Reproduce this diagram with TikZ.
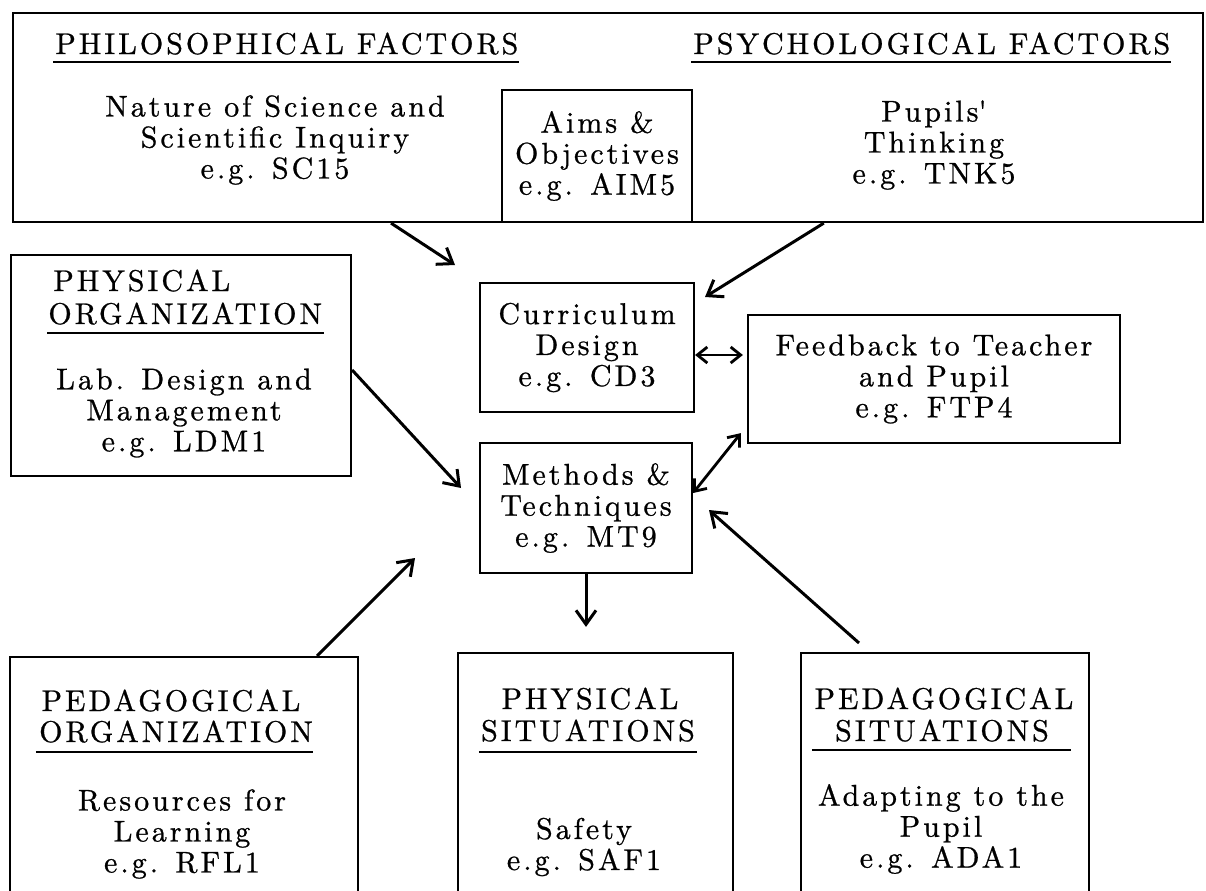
\documentclass[tikz,border=0pt]{standalone}
\usepackage{fontspec}
\setmainfont{lmroman10-regular.otf}[LetterSpace=10,FakeBold=0.8]
\usetikzlibrary{arrows.meta,calc}
\begin{document}
\begin{tikzpicture}[x=0.5pt,y=-0.5pt,
    font=\fontsize{15}{15.5}\selectfont,
    box/.style={draw,line width=1.1pt,inner sep=0pt,align=center},
    hd/.style={inner sep=0pt,anchor=base},
    body/.style={inner sep=0pt,align=center},
    arr/.style={line width=1.5pt,-{Straight Barb[length=7pt,width=10pt]}},
    dbl/.style={line width=1.4pt,{Straight Barb[length=5pt,width=8pt]}-{Straight Barb[length=5pt,width=8pt]}}]
  \useasboundingbox (0,0) rectangle (1206,890);
  \node[box,minimum width=595pt,minimum height=104.5pt] (factors) at (608,117.5) {};
  \node[box,minimum width=95pt,minimum height=66pt] (aims) at (597,156) {Aims \&\\Objectives\\e.g. AIM5};
  \node[hd,anchor=base west] (philo) at (55,54) {PHILOSOPHICAL FACTORS};
  \node[hd,anchor=base west] (psych) at (693,54) {PSYCHOLOGICAL FACTORS};
  \node[body] (nature) at (275,140) {Nature of Science and\\Scientific Inquiry\\e.g. SC15};
  \node[body] (pupils) at (934,145) {Pupils\textquotesingle\\Thinking\\e.g. TNK5};

  \node[box,minimum width=170pt,minimum height=110.5pt] (physorg) at (181,365.5) {};
  \node[hd,anchor=base west] (porg1) at (53,291) {PHYSICAL};
  \node[hd,anchor=base west] (porg2) at (48,324) {ORGANIZATION};
  \node[body] (lab) at (184,413) {Lab. Design and\\Management\\e.g. LDM1};

  \node[box,minimum width=107pt,minimum height=64.5pt] (cd) at (587,347.5) {Curriculum\\Design\\e.g. CD3};
  \node[box,minimum width=106pt,minimum height=65pt] (mt) at (586,508) {Methods \&\\Techniques\\e.g. MT9};
  \node[box,minimum width=186pt,minimum height=64pt] (fb) at (934,379) {Feedback to Teacher\\and Pupil\\e.g. FTP4};

  \node[box,minimum width=174pt,minimum height=121.5pt] (pedorg) at (184,778.5) {};
  \node[hd] (pedo1) at (171,711) {PEDAGOGICAL};
  \node[hd] (pedo2) at (176,742) {ORGANIZATION};
  \node[body] (rfl) at (182,834) {Resources for\\Learning\\e.g. RFL1};

  \node[box,minimum width=137.5pt,minimum height=123.5pt] (physsit) at (595.5,776.5) {};
  \node[hd] (psit1) at (590,709) {PHYSICAL};
  \node[hd] (psit2) at (588,741) {SITUATIONS};
  \node[body] (saf) at (584,847) {Safety\\e.g. SAF1};

  \node[box,minimum width=144pt,minimum height=123.5pt] (pedsit) at (945,776.5) {};
  \node[hd] (pedsit1) at (944,709) {PEDAGOGICAL};
  \node[hd] (pedsit2) at (942,741) {SITUATIONS};
  \node[body] (ada) at (941,829) {Adapting to the\\Pupil\\e.g. ADA1};

  \draw[line width=0.9pt] ([xshift=-1pt,yshift=-4pt]philo.base west) -- ([yshift=-4pt]philo.base east);
  \draw[line width=0.9pt] ([xshift=-1pt,yshift=-4pt]psych.base west) -- ([yshift=-4pt]psych.base east);
  \draw[line width=0.9pt] ([xshift=-0.5pt,yshift=-4.5pt]porg2.base west) -- ([xshift=1pt,yshift=-4.5pt]porg2.base east);
  \draw[line width=0.9pt] ([xshift=-1.5pt,yshift=-5pt]pedo2.base west) -- ([yshift=-5pt]pedo2.base east);
  \draw[line width=0.9pt] ([xshift=-1pt,yshift=-5.5pt]psit2.base west) -- ([xshift=1pt,yshift=-5.5pt]psit2.base east);
  \draw[line width=0.9pt] ([xshift=-11.5pt,yshift=-4.5pt]pedsit2.base west) -- ([xshift=11pt,yshift=-4.5pt]pedsit2.base east);

  \coordinate (philtip) at (455,265);
  \coordinate (psytip) at (705,297);
  \coordinate (porgtip) at (461,488);
  \coordinate (pedtip) at (415,558);
  \coordinate (sittail) at (859,643);
  \coordinate (sittip) at (709,510);
  \draw[arr] ($(factors.south west)!0.318!(factors.south east)$) -- (philtip);
  \draw[arr] ($(factors.south west)!0.681!(factors.south east)$) -- (psytip);
  \draw[arr] ($(physorg.north east)!0.52!(physorg.south east)$) -- (porgtip);
  \draw[arr] ($(pedorg.north west)!0.88!(pedorg.north east)$) -- (pedtip);
  \draw[arr] (sittail) -- (sittip);
  \draw[arr,shorten >=12.5pt] (mt.south) -- (mt.south |- physsit.north);
  \draw[dbl] ([yshift=-3.75pt]cd.east) -- ([xshift=-2pt,yshift=-3.75pt]cd.east -| fb.west);
  \draw[dbl] ([yshift=7.5pt]mt.east) -- ([xshift=-3pt,yshift=5.5pt]fb.south west);
\end{tikzpicture}
\end{document}
